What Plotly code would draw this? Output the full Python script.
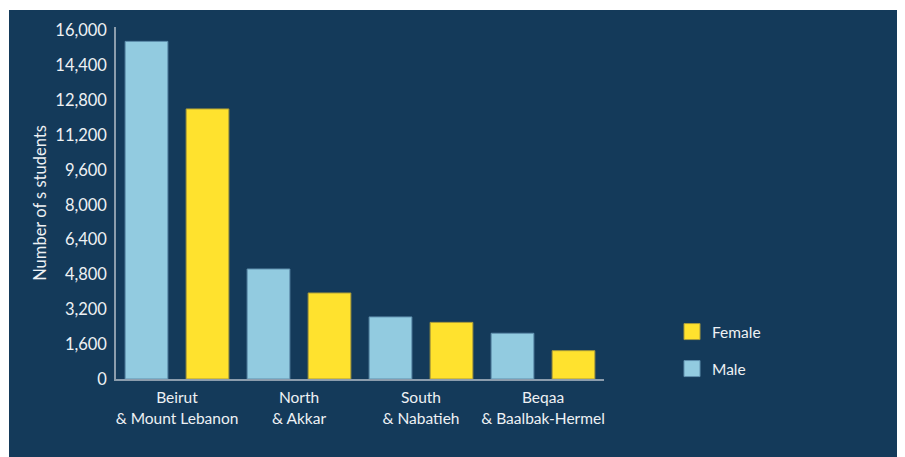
import plotly.graph_objects as go

regions = ["Beirut<br>& Mount Lebanon", "North<br>& Akkar", "South<br>& Nabatieh", "Beqaa<br>& Baalbak-Hermel"]
male = [15500, 5050, 2850, 2100]
female = [12400, 3950, 2600, 1300]
y_ticks = [0, 1600, 3200, 4800, 6400, 8000, 9600, 11200, 12800, 14400, 16000]

BG = "#143A5A"
MALE_C = "#92CBE0"
FEMALE_C = "#FFE22E"
TXT = "#EEF1F4"
AX = "#8C9DAD"
FONT = "Lato, Open Sans, sans-serif"

fig = go.Figure()
fig.add_trace(go.Bar(x=regions, y=male, name="Male", marker=dict(color=MALE_C, line=dict(color="#5F8FAD", width=1)), showlegend=False))
fig.add_trace(go.Bar(x=regions, y=female, name="Female", marker=dict(color=FEMALE_C, line=dict(color="#A89A3A", width=1)), showlegend=False))

# legend-only entries
fig.add_trace(go.Scatter(x=[None], y=[None], mode="markers", name="Female",
                         marker=dict(symbol="square", size=16, color=FEMALE_C, line=dict(color="#A89A3A", width=1)),
                         legend="legend"))
fig.add_trace(go.Scatter(x=[None], y=[None], mode="markers", name="Male",
                         marker=dict(symbol="square", size=16, color=MALE_C, line=dict(color="#5F8FAD", width=1)),
                         legend="legend2"))

# page has an 8px body margin; figure covers screen 8..905 x 8..457
OFF = 8
W, H = 905 - OFF, 457 - OFF
L, R, T, B = 116 - OFF, 905 - 604, 27 - OFF, 457 - 379
pw, ph = W - L - R, H - T - B

def px(x):
    return (x - OFF - L) / pw

def py(y):
    return (H - B - (y - OFF)) / ph

fig.add_shape(type="rect", xref="paper", yref="paper", layer="below",
              x0=px(9), x1=px(W + 20), y0=py(H + 20), y1=py(10),
              fillcolor=BG, line=dict(width=0))

legend_style = dict(font=dict(family=FONT, size=15.5, color=TXT), bgcolor="rgba(0,0,0,0)",
                    xanchor="left", yanchor="middle", itemclick=False)

fig.update_layout(
    width=W, height=H,
    margin=dict(l=L, r=R, t=T, b=B),
    paper_bgcolor="white",
    plot_bgcolor="rgba(0,0,0,0)",
    barmode="group", bargap=0, bargroupgap=0.3,
    font=dict(family=FONT, size=15.5, color=TXT),
    legend=dict(x=px(672), y=py(332), **legend_style),
    legend2=dict(x=px(672), y=py(369), **legend_style),
    xaxis=dict(showgrid=False, showline=True, linecolor=AX, linewidth=1.5,
               ticks="", ticklabelstandoff=4, tickfont=dict(family=FONT, size=15.5, color=TXT), zeroline=False),
    yaxis=dict(range=[0, 16000 * 352 / 348.5], showgrid=False, showline=True, linecolor=AX, linewidth=1.5,
               tickvals=y_ticks, tickformat=",d", ticks="", ticklabelstandoff=4,
               tickfont=dict(family=FONT, size=16.5, color=TXT), zeroline=False,
               title=dict(text="Number of s students", font=dict(family=FONT, size=16.5, color=TXT), standoff=5)),
)

fig.write_html("out.html")
